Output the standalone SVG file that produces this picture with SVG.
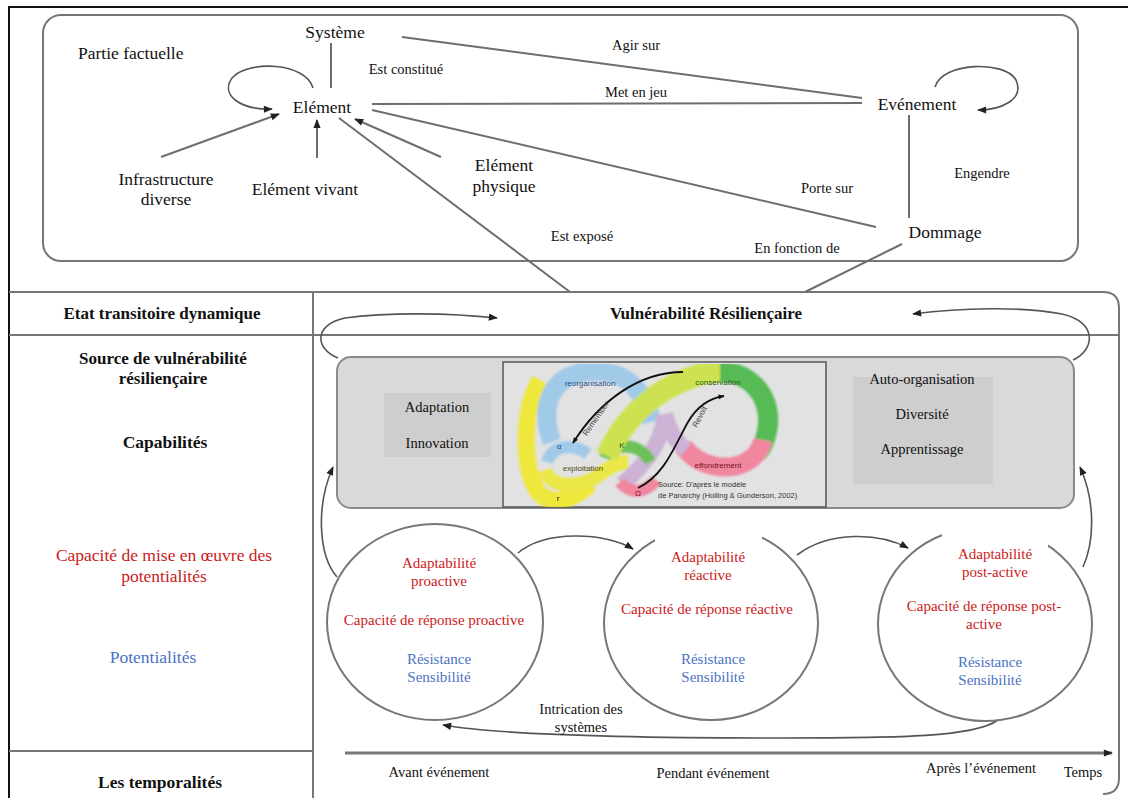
<svg xmlns="http://www.w3.org/2000/svg" width="1128" height="798" viewBox="0 0 1128 798" font-family="Liberation Serif, serif">
<defs>
<style>
text{font-family:'Liberation Serif',serif;fill:#111;}
.n{font-size:17.5px;}
.s{font-size:14.5px;}
.b{font-size:17px;font-weight:bold;}
.c{font-size:15px;}
.red{fill:#cc1a1a;}
.blue{fill:#4a72c4;}
.m{text-anchor:middle;}
.ln{fill:none;stroke:#6e6e6e;stroke-width:2;}
.ar{fill:none;stroke:#555;stroke-width:1.6;}
.frame{fill:none;stroke:#777;stroke-width:2;}
.pt{font-family:'Liberation Sans',sans-serif;font-size:8px;}
.band{fill:none;stroke-linecap:butt;}
</style>
<marker id="ah" viewBox="0 0 10 10" refX="9" refY="5" markerWidth="11" markerHeight="9" markerUnits="userSpaceOnUse" orient="auto">
<path d="M0,1 L10,5 L0,9 z" fill="#222"/>
</marker>
<marker id="ahs" viewBox="0 0 10 10" refX="9" refY="5" markerWidth="7" markerHeight="6" markerUnits="userSpaceOnUse" orient="auto">
<path d="M0,1 L10,5 L0,9 z" fill="#111"/>
</marker>
<filter id="soft" x="-5%" y="-5%" width="110%" height="110%"><feGaussianBlur stdDeviation="1.3"/></filter>
</defs>
<rect width="1128" height="798" fill="#fff"/>

<!-- outer frame -->
<g id="frame">
<path d="M9,798 L9,7 L1128,7" fill="none" stroke="#111" stroke-width="2"/>
<rect x="43" y="15" width="1035" height="246" rx="18" class="frame"/>
<path d="M9,292 L313,292" class="frame"/>
<path d="M313,798 L313,292 L1103,292 Q1119,292 1119,308 L1119,778 Q1119,794 1103,794" class="frame"/>
<path d="M9,335 L1119,335" class="frame"/>
<path d="M9,751 L313,751" class="frame"/>
</g>

<!-- connectors -->
<g id="connectors">
<line x1="331" y1="43" x2="331" y2="88" class="ln"/>
<path d="M313,88 C306,62 248,60 232,78 C220,95 240,110 272,109" class="ar" marker-end="url(#ah)"/>
<line x1="161" y1="157" x2="279" y2="114" class="ln" marker-end="url(#ah)"/>
<line x1="317" y1="158" x2="317" y2="120" class="ln" marker-end="url(#ah)"/>
<line x1="441" y1="157" x2="355" y2="119" class="ln" marker-end="url(#ah)"/>
<line x1="339" y1="118" x2="570" y2="292" class="ln"/>
<line x1="402" y1="37" x2="862" y2="98" class="ln"/>
<line x1="372" y1="104" x2="862" y2="103" class="ln"/>
<line x1="372" y1="110" x2="876" y2="227" class="ln"/>
<path d="M935,87 C942,62 1005,60 1016,80 C1025,100 1000,110 978,110" class="ar" marker-end="url(#ah)"/>
<line x1="909" y1="115" x2="909" y2="218" class="ln"/>
<line x1="902" y1="244" x2="805" y2="292" class="ln"/>

<path d="M338,358 C316,350 312,325 345,318 C390,312 450,313 497,318" class="ar" marker-end="url(#ah)"/>
<path d="M1073,360 C1095,350 1098,322 1062,314 C1020,306 960,308 913,314" class="ar" marker-end="url(#ah)"/>
<path d="M337,577 C318,555 316,505 333,467" class="ar" marker-end="url(#ah)"/>
<path d="M1083,567 C1095,540 1095,500 1080,467" class="ar" marker-end="url(#ah)"/>
<path d="M518,553 C545,530 605,532 633,549" class="ar" marker-end="url(#ah)"/>
<path d="M797,555 C830,530 880,533 908,548" class="ar" marker-end="url(#ah)"/>
<path d="M998,720 C975,737 900,738 780,738 C650,738 500,735 443,725" class="ar" stroke-width="2" marker-end="url(#ah)"/>
<line x1="345" y1="753" x2="1112" y2="753" stroke="#777" stroke-width="3" marker-end="url(#ah)"/>
</g>

<!-- top factual part -->
<g id="partie-factuelle"><text x="78" y="59" class="n">Partie factuelle</text></g>
<g id="systeme"><text x="335" y="38" class="n m">Système</text></g>
<g id="est-constitue"><text x="406" y="74" class="s m">Est constitué</text></g>
<g id="element"><text x="322" y="113" class="n m">Elément</text></g>
<g id="infrastructure"><text x="166" y="185" class="n m">Infrastructure</text><text x="166" y="205" class="n m">diverse</text></g>
<g id="element-vivant"><text x="305" y="195" class="n m">Elément vivant</text></g>
<g id="element-physique"><text x="504" y="171" class="n m">Elément</text><text x="504" y="192" class="n m">physique</text></g>
<g id="agir-sur"><text x="636" y="50" class="s m">Agir sur</text></g>
<g id="met-en-jeu"><text x="636" y="97" class="s m">Met en jeu</text></g>
<g id="evenement"><text x="917" y="110" class="n m">Evénement</text></g>
<g id="engendre"><text x="982" y="178" class="s m">Engendre</text></g>
<g id="porte-sur"><text x="827" y="193" class="s m">Porte sur</text></g>
<g id="dommage"><text x="945" y="238" class="n m">Dommage</text></g>
<g id="est-expose"><text x="582" y="241" class="s m">Est exposé</text></g>
<g id="en-fonction-de"><text x="797" y="253" class="s m">En fonction de</text></g>

<!-- left column -->
<g id="row-labels">
<text x="162" y="319" class="b m">Etat transitoire dynamique</text>
<text x="163" y="364" class="b m">Source de vulnérabilité</text>
<text x="163" y="384" class="b m">résiliençaire</text>
<text x="165" y="448" class="b m" style="font-size:17.5px">Capabilités</text>
<text x="164" y="561" class="n m red">Capacité de mise en œuvre des</text>
<text x="164" y="582" class="n m red">potentialités</text>
<text x="153" y="663" class="n m blue">Potentialités</text>
<text x="160" y="788" class="b m" style="font-size:17.5px">Les temporalités</text>
</g>

<g id="vulnerabilite"><text x="706" y="319" class="b m">Vulnérabilité Résiliençaire</text></g>

<!-- capabilities box -->
<g id="capabilites-box">
<rect x="337" y="357" width="737" height="151" rx="14" fill="#d9d9d9" stroke="#8a8a8a" stroke-width="2"/>
<rect x="384" y="393" width="107" height="64" fill="#cecece"/>
<text x="437" y="412" class="s m">Adaptation</text>
<text x="437" y="448" class="s m">Innovation</text>
<rect x="853" y="377" width="140" height="107" fill="#cecece"/>
<text x="922" y="384" class="s m">Auto-organisation</text>
<text x="922" y="419" class="s m">Diversité</text>
<text x="922" y="454" class="s m">Apprentissage</text>
</g>

<!-- panarchy picture -->
<g id="panarchy">
<rect x="503" y="362" width="323" height="145" fill="#e2e2e2" stroke="#555" stroke-width="1.5"/>
<g filter="url(#soft)" opacity="0.92">
<path class="band" d="M540,380 C522,410 522,468 538,492 C550,506 572,502 590,484" stroke="#f0e82e" stroke-width="17"/>
<path class="band" d="M552,442 C540,410 548,378 585,372 C618,368 642,382 652,422" stroke="#9cc8ea" stroke-width="19"/>
<path class="band" d="M547,462 C552,446 572,442 588,454" stroke="#9cc8ea" stroke-width="12"/>
<path class="band" d="M545,470 C550,488 580,490 600,474 C612,465 620,462 628,462" stroke="#ece83a" stroke-width="14"/>
<path class="band" d="M665,415 C662,445 640,470 622,484" stroke="#cbaed4" stroke-width="16"/>
<path class="band" d="M605,458 C610,444 640,440 650,462" stroke="#63c04e" stroke-width="12"/>
<path class="band" d="M607,456 C622,420 655,390 690,378 C705,372 715,372 722,372" stroke="#cde244" stroke-width="22"/>
<path class="band" d="M720,372 C750,372 770,395 768,425 C766,440 762,448 758,452" stroke="#4cb84a" stroke-width="20"/>
<path class="band" d="M763,440 C758,462 735,470 715,466 C700,463 690,456 683,446" stroke="#f2809a" stroke-width="19"/>
<path class="band" d="M686,450 C674,440 668,428 665,414" stroke="#cbaed4" stroke-width="16"/>
<path class="band" d="M620,482 C630,494 645,494 656,480" stroke="#f2809a" stroke-width="12"/>
</g>
<path d="M683,372 C640,372 600,400 573,443" fill="none" stroke="#111" stroke-width="1.8" marker-end="url(#ahs)"/>
<path d="M638,488 C665,475 675,445 688,422 C698,405 710,398 724,396" fill="none" stroke="#111" stroke-width="1.8" marker-end="url(#ahs)"/>
<text x="590" y="386" class="pt m" style="fill:#1e4f8a">reorganisation</text>
<text x="718" y="385" class="pt m" style="fill:#1c5a1c">conservation</text>
<text x="583" y="471" class="pt m" style="fill:#4a4a10">exploitation</text>
<text x="718" y="468" class="pt m" style="fill:#7a1024">effondrement</text>
<text x="559" y="449" class="pt m" style="fill:#1e4f8a">α</text>
<text x="622" y="448" class="pt m" style="fill:#1c5a1c">K</text>
<text x="558" y="501" class="pt m">r</text>
<text x="638" y="496" class="pt m" style="fill:#7a1024">Ω</text>
<text x="598" y="420" class="pt m" transform="rotate(-55 598 420)" style="fill:#444">Remember</text>
<text x="702" y="418" class="pt m" transform="rotate(-62 702 418)" style="fill:#444">Revolt</text>
<text x="658" y="487" class="pt" style="font-size:7.5px;fill:#333">Source: D'après le modèle</text>
<text x="658" y="498" class="pt" style="font-size:7.5px;fill:#333">de Panarchy (Holling &amp; Gunderson, 2002)</text>
</g>

<!-- circles -->
<g id="circle-proactive">
<ellipse cx="435" cy="622" rx="108" ry="98" class="frame"/>
<text x="439" y="568" class="c m red">Adaptabilité</text>
<text x="439" y="586" class="c m red">proactive</text>
<text x="434" y="625" class="c m red">Capacité de réponse proactive</text>
<text x="439" y="664" class="c m blue">Résistance</text>
<text x="439" y="682" class="c m blue">Sensibilité</text>
</g>
<g id="circle-reactive">
<ellipse cx="711" cy="623" rx="107" ry="97" class="frame"/>
<rect x="655" y="522" width="107" height="26" fill="#fff"/>
<text x="708" y="562" class="c m red">Adaptabilité</text>
<text x="708" y="580" class="c m red">réactive</text>
<text x="707" y="614" class="c m red">Capacité de réponse réactive</text>
<text x="713" y="664" class="c m blue">Résistance</text>
<text x="713" y="682" class="c m blue">Sensibilité</text>
</g>
<g id="circle-postactive">
<ellipse cx="985" cy="624" rx="107" ry="97" class="frame"/>
<rect x="942" y="523" width="106" height="26" fill="#fff"/>
<text x="995" y="559" class="c m red">Adaptabilité</text>
<text x="995" y="577" class="c m red">post-active</text>
<text x="984" y="611" class="c m red">Capacité de réponse post-</text>
<text x="984" y="629" class="c m red">active</text>
<text x="990" y="667" class="c m blue">Résistance</text>
<text x="990" y="685" class="c m blue">Sensibilité</text>
</g>
<g id="intrication">
<text x="581" y="714" class="s m">Intrication des</text>
<text x="581" y="732" class="s m">systèmes</text>
</g>

<!-- time axis labels -->
<g id="temporalites">
<text x="439" y="777" class="s m">Avant événement</text>
<text x="713" y="778" class="s m">Pendant événement</text>
<text x="981" y="773" class="s m">Après l’événement</text>
<text x="1083" y="777" class="s m">Temps</text>
</g>
</svg>
